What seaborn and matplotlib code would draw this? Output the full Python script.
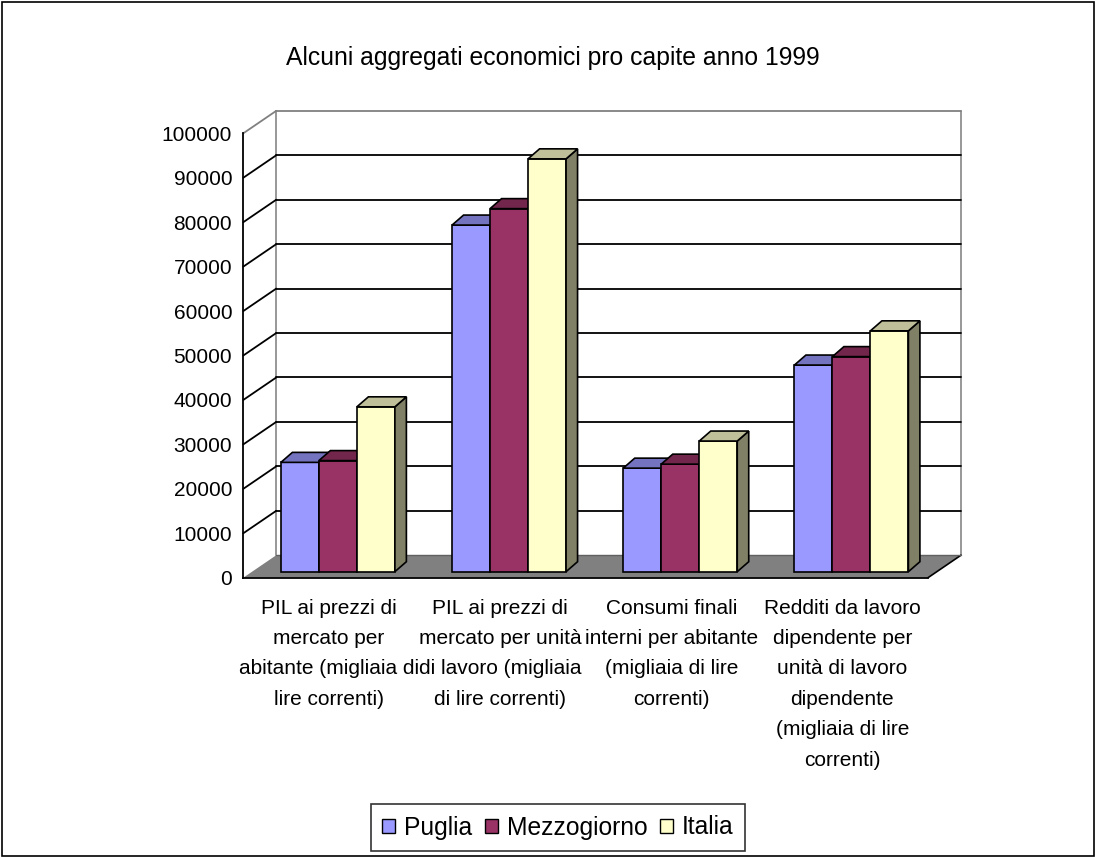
import matplotlib
matplotlib.use("Agg")
import matplotlib.pyplot as plt
import numpy as np
import pandas as pd
import seaborn as sns
from matplotlib.patches import Polygon, Rectangle, Patch

# ---------------- data ----------------
title = "Alcuni aggregati economici pro capite anno 1999"
categories = [
    "PIL ai prezzi di\nmercato per\nabitante (migliaia di\nlire correnti)",
    "PIL ai prezzi di\nmercato per unità\ndi lavoro (migliaia\ndi lire correnti)",
    "Consumi finali\ninterni per abitante\n(migliaia di lire\ncorrenti)",
    "Redditi da lavoro\ndipendente per\nunità di lavoro\ndipendente\n(migliaia di lire\ncorrenti)",
]
series = ["Puglia", "Mezzogiorno", "Italia"]
puglia = [24600, 78000, 23300, 46500]
mezzogiorno = [25000, 81700, 24200, 48400]
italia = [37100, 92900, 29400, 54200]
y_ticks = list(range(0, 100001, 10000))

front_colors = ["#9999FF", "#993366", "#FFFFCC"]
top_colors = ["#7373BF", "#73264C", "#BFBF99"]
side_colors = ["#4D4D80", "#4D1A33", "#808066"]

df = pd.DataFrame({
    "categoria": np.repeat(categories, len(series)),
    "serie": series * len(categories),
    "valore": [v for trio in zip(puglia, mezzogiorno, italia) for v in trio],
})

# ---------------- layout ----------------
W, H = 1095, 857
sns.set_style("white")
plt.rcParams["font.family"] = ["Liberation Sans", "DejaVu Sans"]
plt.rcParams["text.color"] = "black"
plt.rcParams["xtick.color"] = "black"
plt.rcParams["ytick.color"] = "black"
plt.rcParams["axes.labelcolor"] = "black"

fig = plt.figure(figsize=(W / 100, H / 100), dpi=100)
ax_l, ax_r, ax_t, ax_b = 243.3, 928.0, 133.3, 577.7
ax = fig.add_axes([ax_l / W, (H - ax_b) / H, (ax_r - ax_l) / W, (ax_b - ax_t) / H])

ymax = 100000
px_x = (ax_r - ax_l) / len(categories)
px_y = (ax_b - ax_t) / ymax


def dxu(px):
    return px / px_x


def dyu(px):
    return px / px_y


DX, DY = dxu(33), dyu(22.5)      # depth of the floor / walls
OX, OY = dxu(9), dyu(6)          # bar front-plane offset
BDX, BDY = dxu(11.5), dyu(10)    # bar depth

sns.barplot(data=df, x="categoria", y="valore", hue="serie", order=categories,
            hue_order=series, palette=front_colors, width=0.666,
            errorbar=None, legend=False, edgecolor="black", linewidth=1.2,
            saturation=1, ax=ax)

ax.set_xlim(-0.5, len(categories) - 0.5)
ax.set_ylim(0, ymax)
x0, x1 = -0.5, len(categories) - 0.5

# floor
floor = Polygon([(x0, 0), (x1, 0), (x1 + DX, DY), (x0 + DX, DY)], closed=True,
                facecolor="#808080", edgecolor="none", zorder=0.5, clip_on=False)
ax.add_patch(floor)
ax.plot([x1, x1 + DX], [0, DY], color="black", lw=1.2, zorder=0.6, clip_on=False)
ax.plot([x0 + DX, x1 + DX], [DY, DY], color="#606060", lw=1.0, zorder=0.6, clip_on=False)

# walls
for yv in y_ticks[1:]:
    c = "#808080" if yv == ymax else "black"
    ax.plot([x0 + DX, x1 + DX], [yv + DY, yv + DY], color=c, lw=1.3, zorder=0.4, clip_on=False)
    ax.plot([x0, x0 + DX], [yv, yv + DY], color=c, lw=1.3, zorder=0.4, clip_on=False)
ax.plot([x0 + DX, x0 + DX], [DY, ymax + DY], color="#909090", lw=1.3, zorder=0.3, clip_on=False)
ax.plot([x1 + DX, x1 + DX], [DY, ymax + DY], color="#909090", lw=1.3, zorder=0.3, clip_on=False)

# 3D bars built from the seaborn rectangles
for k, cont in enumerate(ax.containers):
    for rect in cont.patches:
        x = rect.get_x() + OX
        w = rect.get_width()
        h = rect.get_height()
        rect.set_x(x)
        rect.set_y(OY)
        rect.set_zorder(3 + k)
        rect.set_clip_on(False)
        top = Polygon([(x, OY + h), (x + w, OY + h), (x + w + BDX, OY + h + BDY),
                       (x + BDX, OY + h + BDY)], closed=True, facecolor=top_colors[k],
                      edgecolor="black", lw=1.2, zorder=3 + k, clip_on=False)
        side = Polygon([(x + w, OY), (x + w + BDX, OY + BDY), (x + w + BDX, OY + h + BDY),
                        (x + w, OY + h)], closed=True, facecolor=side_colors[k],
                       edgecolor="black", lw=1.2, zorder=3 + k, clip_on=False)
        ax.add_patch(side)
        ax.add_patch(top)

# axes
for s in ["top", "right"]:
    ax.spines[s].set_visible(False)
for s in ["left", "bottom"]:
    ax.spines[s].set_color("black")
    ax.spines[s].set_linewidth(1.3)
    ax.spines[s].set_zorder(2)
ax.set_facecolor("none")
ax.grid(False)
ax.set_yticks(y_ticks)
ax.set_yticklabels([str(v) for v in y_ticks], fontsize=15, color="black")
ax.tick_params(axis="y", direction="out", length=5, width=1.2, color="black", pad=3)
ax.set_xticks(range(len(categories)))
ax.set_xticklabels(categories, fontsize=15, linespacing=1.76, va="top", color="black")
ax.set_xticks(np.arange(-0.5, len(categories), 1.0), minor=True)
ax.tick_params(axis="x", which="major", length=0, pad=15)
ax.tick_params(axis="x", which="minor", direction="out", length=5, width=1.2, color="black")
ax.set_xlabel("")
ax.set_ylabel("")

# title
fig.text(553 / W, 1 - 58 / H, title, ha="center", va="center", fontsize=17.8, color="black")

# legend
handles = [Patch(facecolor=c, edgecolor="black", lw=1.0) for c in front_colors]
leg = fig.legend(handles, series, loc="center", bbox_to_anchor=(558 / W, 1 - 827.5 / H),
                 ncol=3, fontsize=17.7, frameon=True, fancybox=False, handlelength=0.52,
                 handleheight=0.52, handletextpad=0.38, columnspacing=0.5, borderpad=0.48,
                 labelcolor="black")
leg.get_frame().set_edgecolor("black")
leg.get_frame().set_linewidth(1.2)

# chart border
fig.patches.append(Rectangle((1.5 / W, 1.5 / H), 1 - 3 / W, 1 - 3 / H, transform=fig.transFigure,
                             fill=False, edgecolor="black", lw=1.2))

fig.savefig("out.png", dpi=100)
